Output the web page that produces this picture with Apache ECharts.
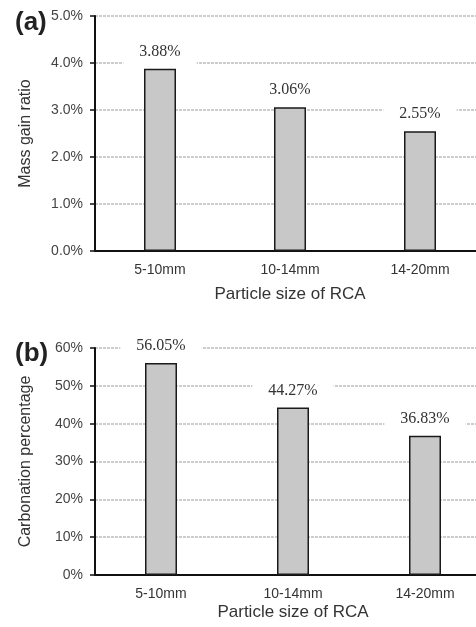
<!DOCTYPE html>
<html>
<head>
<meta charset="utf-8">
<script src="https://cdn.jsdelivr.net/npm/echarts@6/dist/echarts.min.js"></script>
<style>
  html, body { margin: 0; padding: 0; background: #fff; }
  #main { width: 476px; height: 627px; }
</style>
</head>
<body>
<div id="main"></div>
<script>
let myChart = echarts.init(document.getElementById('main'));

// data
const sizes = ['5-10mm', '10-14mm', '14-20mm'];
const massGain = [3.88, 3.06, 2.55];
const carbonation = [56.05, 44.27, 36.83];

const sans = 'Liberation Sans, Arial, sans-serif';
const serif = 'Liberation Serif, Times New Roman, serif';

function yAxisOf(gridIndex, name, max, interval, fmt) {
  return {
    gridIndex: gridIndex,
    type: 'value',
    min: 0,
    max: max,
    interval: interval,
    name: name,
    nameLocation: 'middle',
    nameGap: 61,
    nameTextStyle: { fontFamily: sans, fontSize: 16, color: '#333' },
    axisLine: { show: true, lineStyle: { color: '#111', width: 2 } },
    axisTick: { show: true, length: 5, lineStyle: { color: '#111', width: 1.5 } },
    axisLabel: { margin: 12, fontFamily: sans, fontSize: 14, color: '#444', formatter: fmt },
    splitLine: { show: true, lineStyle: { color: '#bdbdbd', width: 1.5, type: [3, 1] } }
  };
}

function xAxisOf(gridIndex, nameGap) {
  return {
    gridIndex: gridIndex,
    type: 'category',
    data: sizes,
    name: 'Particle size of RCA',
    nameLocation: 'middle',
    nameGap: nameGap,
    nameTextStyle: { fontFamily: sans, fontSize: 17, color: '#333' },
    axisLine: { show: true, lineStyle: { color: '#111', width: 2 } },
    axisTick: { show: false },
    axisLabel: { margin: 12, fontFamily: sans, fontSize: 14, color: '#333' }
  };
}

function barsOf(i, values) {
  return {
    type: 'bar',
    xAxisIndex: i,
    yAxisIndex: i,
    data: values,
    barWidth: 32,
    itemStyle: { color: '#c8c8c8', borderColor: '#1a1a1a', borderWidth: 1.5 },
    label: {
      show: true,
      position: 'top',
      distance: 2,
      fontFamily: serif,
      fontSize: 16,
      color: '#333',
      backgroundColor: '#fff',
      padding: [5, 16, 7, 16],
      formatter: function (p) { return p.value.toFixed(2) + '%'; }
    }
  };
}

let option = {
  backgroundColor: '#fff',
  animation: false,
  title: [
    { text: '(a)', left: 10, top: 5, textStyle: { fontFamily: sans, fontSize: 26, fontWeight: 'bold', color: '#222' } },
    { text: '(b)', left: 10, top: 336, textStyle: { fontFamily: sans, fontSize: 26, fontWeight: 'bold', color: '#222' } }
  ],
  grid: [
    { left: 95, width: 390, top: 16, height: 235, containLabel: false, outerBoundsMode: 'none' },
    { left: 95, width: 396, top: 348, height: 227, containLabel: false, outerBoundsMode: 'none' }
  ],
  xAxis: [xAxisOf(0, 35), xAxisOf(1, 29)],
  yAxis: [
    yAxisOf(0, 'Mass gain ratio', 5, 1, function (v) { return v.toFixed(1) + '%'; }),
    yAxisOf(1, 'Carbonation percentage', 60, 10, function (v) { return v + '%'; })
  ],
  series: [barsOf(0, massGain), barsOf(1, carbonation)]
};

myChart.setOption(option);
</script>
</body>
</html>
